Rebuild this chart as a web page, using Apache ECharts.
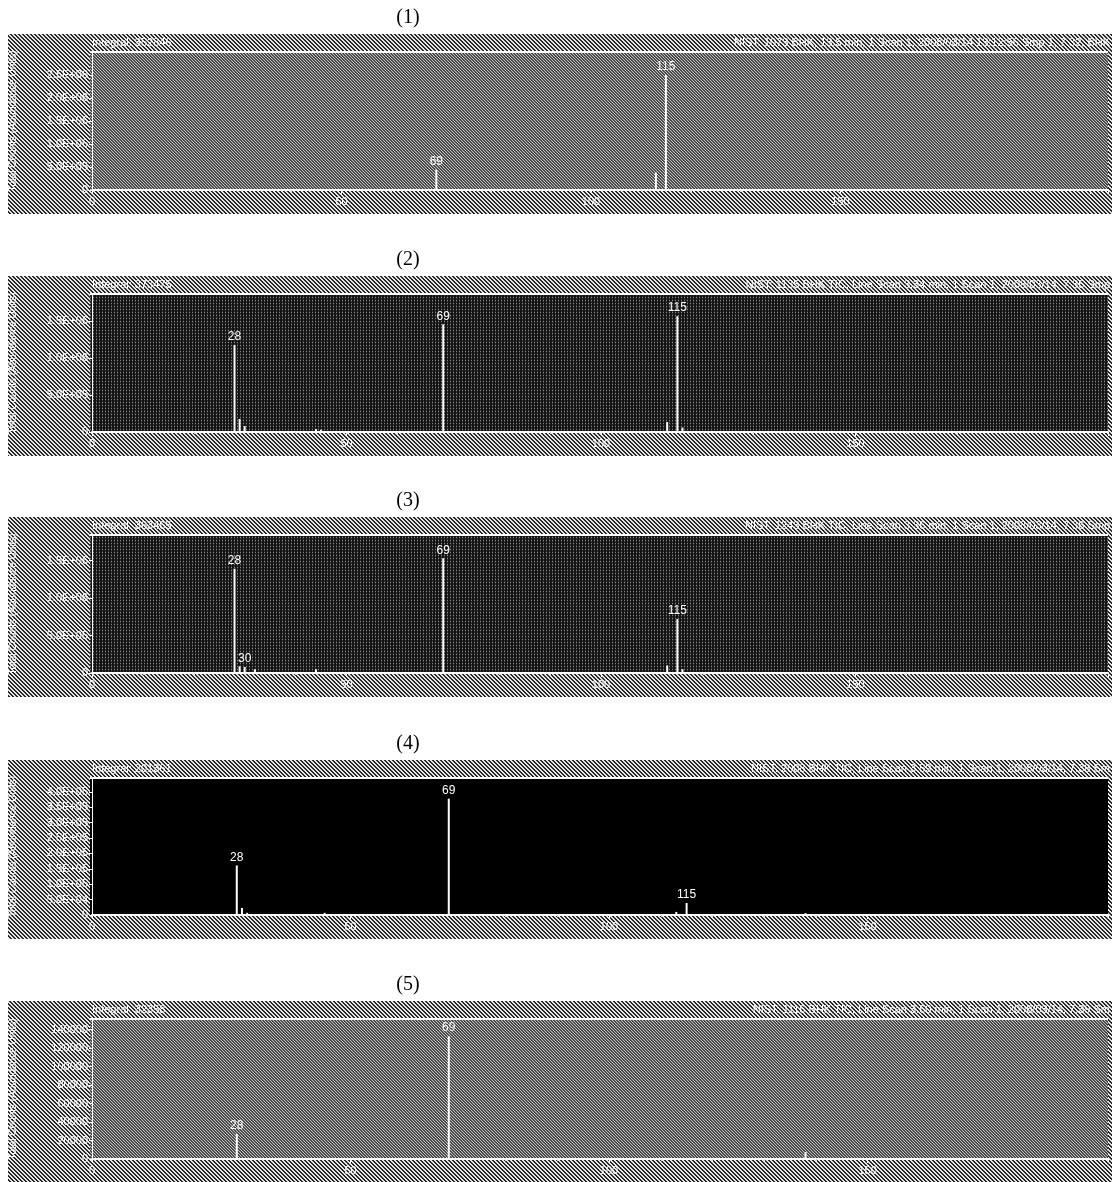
<!DOCTYPE html>
<html>
<head>
<meta charset="utf-8">
<title>Mass spectra (1)-(5)</title>
<script src="https://cdn.jsdelivr.net/npm/echarts@6/dist/echarts.min.js"></script>
<style>
    html, body { margin: 0; padding: 0; background: #fff; }
    #chart { width: 1116px; height: 1182px; }
</style>
</head>
<body>
<div id="chart"></div>
<script>
// 各面板的数据 (m/z, 强度)
var panelNames = ['(1)', '(2)', '(3)', '(4)', '(5)'];
var headerLeft = ['Integral: 352846', 'Integral: 373475', 'Integral: 363465', 'Integral: 201361', 'Integral: 32358'];
var headerRight = [
    'NIST: 1073 BHK, 13.5 min, 1 Scan 1, 2008/03/14 13:12:56 Smp 1, 7.32, BHK',
    'NIST: 1135 BHK TIC, Line Scan 3.34 min, 1 Scan 1, 2008/03/14, 7.35 Smp',
    'NIST: 1243 BHK TIC, Line Scan 3.36 min, 1 Scan 1, 2008/03/14, 7.36 Smp',
    'NIST: 2008 BHK TIC, Line Scan 3.59 min, 1 Scan 1, 2008/03/14, 7.38 Sm',
    'NIST: 1116 BHK TIC, Line Scan 3.60 min, 1 Scan 1, 2008/03/14, 7.39 Sm'
];

var mz1 = [69, 113, 115];
var int1 = [440000, 380000, 2500000];
var mz2 = [28, 29, 30, 44, 45, 69, 113, 115, 116];
var int2 = [1180000, 176000, 80000, 40000, 30000, 1460000, 135000, 1570000, 60000];
var mz3 = [28, 29, 30, 32, 44, 69, 113, 115, 116];
var int3 = [1390000, 90000, 80000, 50000, 50000, 1530000, 100000, 720000, 50000];
var mz4 = [28, 29, 30, 45, 69, 113, 115, 138];
var int4 = [161000, 23000, 7000, 7000, 378000, 10000, 39000, 6000];
var mz5 = [28, 69, 138];
var int5 = [27000, 133000, 7500];
var labelled = [[69, 115], [28, 69, 115], [28, 30, 69, 115], [28, 69, 115], [28, 69]];

var xTickLabels = [0, 50, 100, 150];
var xMax = [203.6, 199.6, 199.6, 196.5, 196.5];
var yMax = [3000000, 1870000, 1840000, 445000, 151600];
var yStep = [500000, 500000, 500000, 50000, 20000];
var yUseExp = [true, true, true, true, false];

var allMz = [mz1, mz2, mz3, mz4, mz5];
var allInt = [int1, int2, int3, int4, int5];

// 面板位置
var plotTop = [52, 294, 535, 778, 1019];
var plotH = [138, 138, 138, 137, 140];
var plotLeft = 90, plotW = 1018;

// 斜线纹理 -> dataURL
function makePattern(size, fn) {
    var c = document.createElement('canvas');
    c.width = size; c.height = size;
    var ctx = c.getContext('2d');
    for (var y = 0; y < size; y++) {
        for (var x = 0; x < size; x++) {
            ctx.fillStyle = fn(x, y);
            ctx.fillRect(x, y, 1, 1);
        }
    }
    return { image: c.toDataURL(), repeat: 'repeat' };
}
var outerFill = makePattern(4, function (x, y) {
    return ((x - y + 8) % 4 < 2) ? '#2a2a2a' : '#e6e6e6';
});
var grayFill = makePattern(3, function (x, y) {
    return ((x - y + 6) % 3 === 0) ? '#c4c4c4' : '#4a4a4a';
});
var darkFill = makePattern(3, function (x, y) {
    return (x === 0 && y === 0) ? '#8a8a8a' : (x === 0 ? '#303030' : '#141414');
});
var plotFills = [grayFill, darkFill, darkFill, '#000000', grayFill];

function expLabel(v) {
    if (v === 0) return '0';
    var s = v.toExponential(1).toUpperCase();
    return s.replace(/E([+-])(\d)$/, 'E$10$2');
}
function plainLabel(v) {
    return String(v);
}
function xLabel(v) {
    return xTickLabels.indexOf(v) >= 0 ? String(v) : '';
}
function peakLabel(p) {
    return p.value[0];
}

var grids = [], xAxes = [], yAxes = [], series = [], graphics = [];
for (var i = 0; i < 5; i++) {
    var gTop = plotTop[i];
    grids.push({ left: plotLeft, top: gTop, width: plotW, height: plotH[i] });

    graphics.push({ type: 'rect', z: -20, shape: { x: 8, y: gTop - 18, width: 1104, height: plotH[i] + 42 }, style: { fill: outerFill } });
    graphics.push({ type: 'rect', z: -10, shape: { x: plotLeft, y: gTop, width: plotW, height: plotH[i] }, style: { fill: plotFills[i] } });
    graphics.push({ type: 'line', z: 5, shape: { x1: plotLeft, y1: gTop, x2: plotLeft + plotW, y2: gTop }, style: { stroke: '#ffffff', lineWidth: 2 } });
    graphics.push({ type: 'text', z: 5, x: 408, y: gTop - 34, style: { text: panelNames[i], fill: '#000', font: '20px "Liberation Serif"', textAlign: 'center', textVerticalAlign: 'middle' } });
    graphics.push({ type: 'text', z: 5, x: 92, y: gTop - 9, style: { text: headerLeft[i], fill: '#fff', font: '11px "Liberation Sans"', textVerticalAlign: 'middle' } });
    graphics.push({ type: 'text', z: 5, x: 1110, y: gTop - 9, style: { text: headerRight[i], fill: '#fff', font: '11px "Liberation Sans"', textAlign: 'right', textVerticalAlign: 'middle' } });

    xAxes.push({
        type: 'value', gridIndex: i, min: 0, max: xMax[i], interval: 50,
        axisLine: { show: true, lineStyle: { color: '#fff', width: 2 } },
        axisTick: { show: true, length: 4, lineStyle: { color: '#fff' } },
        minorTick: { show: true, splitNumber: 5, length: 2, lineStyle: { color: '#ddd' } },
        axisLabel: { color: '#fff', fontSize: 11, margin: 6, fontFamily: 'Liberation Sans', formatter: xLabel },
        splitLine: { show: false }
    });
    yAxes.push({
        type: 'value', gridIndex: i, min: 0, max: yMax[i], interval: yStep[i],
        name: 'Total Counts (Abundance Units)', nameLocation: 'middle', nameGap: 74, nameRotate: 90,
        nameTextStyle: { color: '#fff', fontSize: 10, fontFamily: 'Liberation Sans' },
        axisLine: { show: true, lineStyle: { color: '#fff', width: 1 } },
        axisTick: { show: true, length: 3, lineStyle: { color: '#fff' } },
        axisLabel: {
            color: '#fff', fontSize: 11, margin: 4, showMaxLabel: false, fontFamily: 'Liberation Sans',
            formatter: yUseExp[i] ? expLabel : plainLabel
        },
        splitLine: { show: false }
    });

    var data = [];
    for (var k = 0; k < allMz[i].length; k++) {
        var item = { value: [allMz[i][k], allInt[i][k]] };
        if (labelled[i].indexOf(allMz[i][k]) >= 0) {
            item.label = { show: true };
        }
        data.push(item);
    }
    series.push({
        type: 'bar', xAxisIndex: i, yAxisIndex: i, barWidth: 2, data: data,
        itemStyle: { color: '#ffffff' },
        label: { show: false, position: 'top', distance: 2, color: '#fff', fontSize: 12, fontFamily: 'Liberation Sans', formatter: peakLabel },
        silent: true
    });
}

var myChart = echarts.init(document.getElementById('chart'), null, { renderer: 'canvas' });
myChart.setOption({
    backgroundColor: '#ffffff',
    animation: false,
    grid: grids,
    xAxis: xAxes,
    yAxis: yAxes,
    series: series,
    graphic: graphics
});
</script>
</body>
</html>
